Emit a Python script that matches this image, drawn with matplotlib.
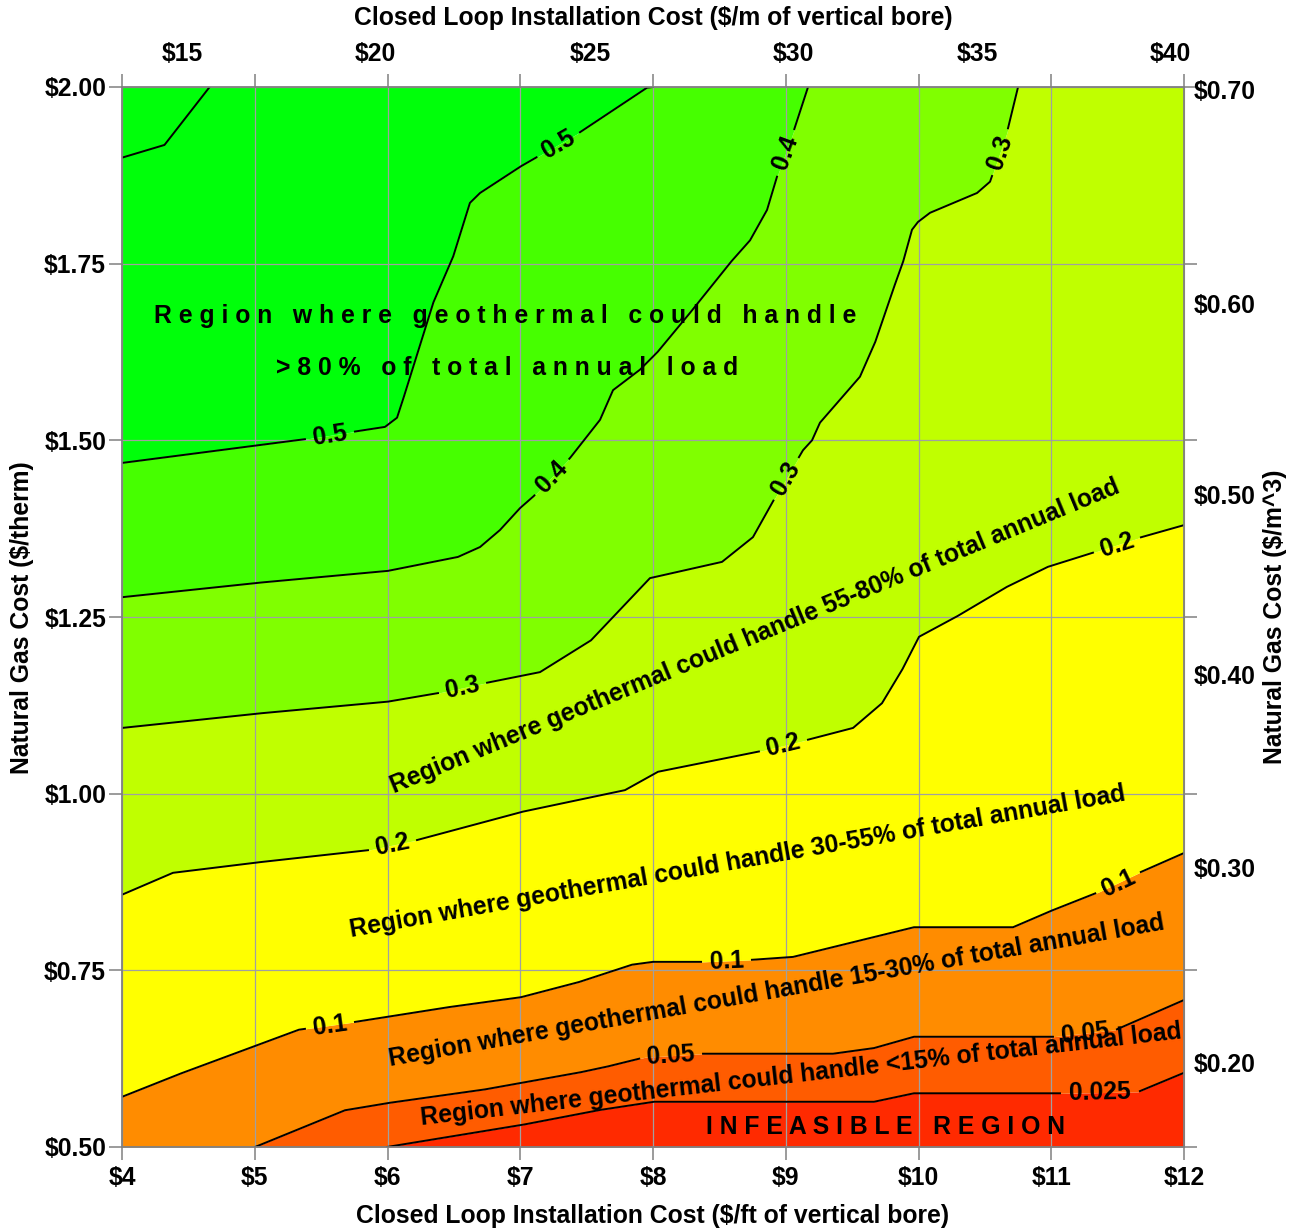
import numpy as np
import matplotlib.pyplot as plt

plt.rcParams['font.family'] = ['Liberation Sans', 'DejaVu Sans']
plt.rcParams['font.weight'] = 'bold'

# === Contour lines (x: $/ft of bore, y: $/therm) ===
c0025_x = [5.996, 7.006, 7.586, 8.008, 9.665, 9.966, 11.096, 11.654, 12.0]
c0025_y = [0.500, 0.531, 0.552, 0.564, 0.564, 0.576, 0.576, 0.578, 0.605]

c005_x = [5.002, 5.680, 5.996, 6.719, 7.435, 7.638, 7.940, 8.377, 9.356, 9.665, 9.966, 11.013, 11.488, 12.0]
c005_y = [0.500, 0.552, 0.562, 0.581, 0.605, 0.613, 0.627, 0.632, 0.632, 0.640, 0.656, 0.656, 0.666, 0.708]

c01_x = [4.0, 4.414, 4.987, 5.333, 5.755, 6.426, 7.006, 7.435, 7.842, 8.0, 8.377, 8.753, 9.055,
         9.966, 10.712, 10.983, 11.360, 11.661, 12.0]
c01_y = [0.571, 0.602, 0.642, 0.666, 0.677, 0.697, 0.712, 0.733, 0.758, 0.762, 0.762, 0.765, 0.769,
         0.811, 0.811, 0.833, 0.861, 0.888, 0.916]

c02_x = [4.0, 4.384, 4.987, 5.853, 6.215, 7.006, 7.435, 7.789, 8.038, 8.783, 9.160, 9.507, 9.725,
         9.876, 10.004, 10.282, 10.659, 10.975, 11.314, 11.661, 12.0]
c02_y = [0.857, 0.888, 0.902, 0.920, 0.934, 0.974, 0.991, 1.005, 1.031, 1.059, 1.076, 1.093, 1.128,
         1.175, 1.222, 1.250, 1.292, 1.321, 1.341, 1.362, 1.380]

c03_x = [4.0, 5.002, 5.996, 6.373, 6.750, 7.149, 7.533, 7.977, 8.520, 8.753, 8.911, 9.130, 9.198,
         9.258, 9.559, 9.672, 9.808, 9.883, 9.951, 9.996, 10.087, 10.313, 10.441, 10.539, 10.667, 10.750]
c03_y = [1.093, 1.113, 1.130, 1.142, 1.157, 1.172, 1.217, 1.305, 1.328, 1.363, 1.416, 1.486, 1.500,
         1.525, 1.590, 1.638, 1.713, 1.752, 1.798, 1.809, 1.822, 1.840, 1.850, 1.866, 1.936, 2.000]

c04_x = [4.0, 5.002, 5.996, 6.531, 6.697, 6.847, 6.998, 7.096, 7.375, 7.601, 7.699, 7.902, 8.030,
         8.256, 8.580, 8.731, 8.859, 8.934, 9.055, 9.168]
c04_y = [1.278, 1.298, 1.315, 1.335, 1.349, 1.373, 1.404, 1.420, 1.475, 1.529, 1.571, 1.600, 1.624,
         1.675, 1.751, 1.783, 1.826, 1.873, 1.935, 2.000]

c05_x = [4.0, 5.393, 5.981, 6.072, 6.109, 6.343, 6.493, 6.621, 6.697, 6.998, 7.450, 7.955, 8.0]
c05_y = [1.468, 1.502, 1.519, 1.532, 1.553, 1.694, 1.759, 1.836, 1.850, 1.887, 1.936, 1.999, 2.000]

ctop_x = [4.0, 4.32, 4.66]
ctop_y = [1.900, 1.918, 2.000]

band_colors = ['#ff2a00', '#ff5c00', '#ff8c00', '#ffff00', '#c0ff00', '#80ff00', '#46ff00', '#00ff0a']

# label anchor points for each contour (data coords)
lab_0025 = [(11.367, 0.578)]
lab_005 = [(8.136, 0.629), (11.254, 0.661)]
lab_01 = [(5.567, 0.673), (8.557, 0.763), (11.503, 0.875)]
lab_02 = [(6.034, 0.927), (8.979, 1.069), (11.495, 1.352)]
lab_03 = [(6.561, 1.150), (8.994, 1.447), (10.614, 1.908)]
lab_04 = [(7.239, 1.448), (8.994, 1.907)]
lab_05 = [(5.567, 1.505), (7.284, 1.918)]

# secondary axes labels
top_labels = ['$15', '$20', '$25', '$30', '$35', '$40']
top_pos = [4.452, 5.906, 7.525, 9.054, 10.447, 11.895]
right_labels = ['$0.70', '$0.60', '$0.50', '$0.40', '$0.30', '$0.20']
right_pos = [1.997, 1.694, 1.424, 1.168, 0.896, 0.619]

FS = 17.8
GRAY = '#808080'

fig = plt.figure(figsize=(13.03, 12.32), dpi=100)
ax = fig.add_axes([122 / 1303, 1 - 1147 / 1232, 1062 / 1303, 1060 / 1232])
ax.set_xlim(4, 12)
ax.set_ylim(0.5, 2.0)

# === filled bands ===
xg = np.linspace(4, 12, 4001)
bounds = [np.full_like(xg, 0.5)]
for cx, cy in [(c0025_x, c0025_y), (c005_x, c005_y), (c01_x, c01_y), (c02_x, c02_y),
               (c03_x, c03_y), (c04_x, c04_y), (c05_x, c05_y)]:
    bounds.append(np.interp(xg, cx, cy))
bounds.append(np.full_like(xg, 2.0))
for lo, hi, col in zip(bounds[:-1], bounds[1:], band_colors):
    ax.fill_between(xg, lo, hi, color=col, lw=0, zorder=1)


def draw_contour(xs, ys, labels, text):
    pts = ax.transData.transform(np.column_stack([xs, ys]))
    dense = []
    for p0, p1 in zip(pts[:-1], pts[1:]):
        n = max(int(np.hypot(*(p1 - p0))), 1)
        t = np.linspace(0, 1, n, endpoint=False)[:, None]
        dense.append(p0 + t * (p1 - p0))
    dense.append(pts[-1:])
    dense = np.vstack(dense)
    keep = np.ones(len(dense), bool)
    half = 7.5 * len(text) + 2
    for lx, ly in labels:
        c = ax.transData.transform((lx, ly))
        i = np.argmin(np.hypot(*(dense - c).T))
        j0, j1 = max(i - 6, 0), min(i + 6, len(dense) - 1)
        d = dense[j1] - dense[j0]
        ang = np.degrees(np.arctan2(d[1], d[0]))
        if ang > 90:
            ang -= 180
        if ang < -90:
            ang += 180
        keep &= np.hypot(*(dense - dense[i]).T) > half
        px, py = ax.transData.inverted().transform(dense[i])
        ax.text(px, py, text, rotation=ang, rotation_mode='anchor', ha='center',
                va='center', fontsize=FS, fontweight='bold', zorder=4)
    seg = dense.copy()
    seg[~keep] = np.nan
    dx, dy = ax.transData.inverted().transform(seg).T
    ax.plot(dx, dy, color='black', lw=1.4, zorder=3)


draw_contour(c0025_x, c0025_y, lab_0025, '0.025')
draw_contour(c005_x, c005_y, lab_005, '0.05')
draw_contour(c01_x, c01_y, lab_01, '0.1')
draw_contour(c02_x, c02_y, lab_02, '0.2')
draw_contour(c03_x, c03_y, lab_03, '0.3')
draw_contour(c04_x, c04_y, lab_04, '0.4')
draw_contour(c05_x, c05_y, lab_05, '0.5')
draw_contour(ctop_x, ctop_y, [], '')

# === region annotations ===
def spaced(s):
    return '   '.join(' '.join(w) for w in s.split())


ax.text(6.885, 1.676, spaced('Region where geothermal could handle'), ha='center', va='center', fontsize=FS, zorder=5)
ax.text(6.904, 1.602, spaced('>80% of total annual load'), ha='center', va='center', fontsize=FS, zorder=5)
ax.text(9.751, 0.528, spaced('INFEASIBLE REGION'), ha='center', va='center', fontsize=FS, zorder=5)

regions = [
    (8.768, 1.222, 22.5, 'Region where geothermal could handle 55-80% of total annual load'),
    (8.640, 0.903, 10.0, 'Region where geothermal could handle 30-55% of total annual load'),
    (8.934, 0.721, 10.0, 'Region where geothermal could handle 15-30% of total annual load'),
    (9.115, 0.602, 6.5, 'Region where geothermal could handle <15% of total annual load'),
]
for rx, ry, rot, txt in regions:
    ax.text(rx, ry, txt, rotation=rot, rotation_mode='anchor', ha='center', va='center',
            fontsize=FS, zorder=5)

# === axes, ticks, grid ===
ax.set_xticks(range(4, 13), labels=[f'${v}' for v in range(4, 13)])
yt = np.arange(0.5, 2.01, 0.25)
ax.set_yticks(yt, labels=[f'${v:.2f}' for v in yt])
ax.tick_params(axis='x', direction='out', length=9.4, width=1.1, color=GRAY, pad=4, labelsize=FS)
ax.tick_params(axis='y', direction='out', length=9.4, width=1.1, color=GRAY, pad=2, labelsize=FS)
ax.grid(True, color='#a0a0a0', lw=0.9, zorder=2)
ax.set_axisbelow(False)
for sp in ax.spines.values():
    sp.set_color(GRAY)
    sp.set_linewidth(1.3)
    sp.set_zorder(6)

top = ax.secondary_xaxis('top')
top.set_xticks(range(4, 13), labels=[''] * 9)
top.set_xticks(top_pos, labels=top_labels, minor=True)
top.tick_params(which='major', direction='out', length=9.4, width=1.1, color=GRAY)
top.tick_params(which='minor', length=0, pad=15, labelsize=FS)
top.spines['top'].set_color(GRAY)

right = ax.secondary_yaxis('right')
right.set_yticks(yt, labels=[''] * len(yt))
right.set_yticks(right_pos, labels=right_labels, minor=True)
right.tick_params(which='major', direction='out', length=9.4, width=1.1, color=GRAY)
right.tick_params(which='minor', length=0, pad=7, labelsize=FS)
right.spines['right'].set_color(GRAY)

fig.text(0.5011, 1 - 18 / 1232, 'Closed Loop Installation Cost ($/m of vertical bore)',
         ha='center', va='center', fontsize=FS)
fig.text(0.5011, 1 - 1216 / 1232, 'Closed Loop Installation Cost ($/ft of vertical bore)',
         ha='center', va='center', fontsize=FS)
fig.text(22 / 1303, 1 - 618 / 1232, 'Natural Gas Cost ($/therm)', rotation=90,
         ha='center', va='center', fontsize=FS)
fig.text(1275 / 1303, 1 - 617 / 1232, 'Natural Gas Cost ($/m^3)', rotation=90,
         ha='center', va='center', fontsize=FS)

fig.savefig('out.png', dpi=100)
